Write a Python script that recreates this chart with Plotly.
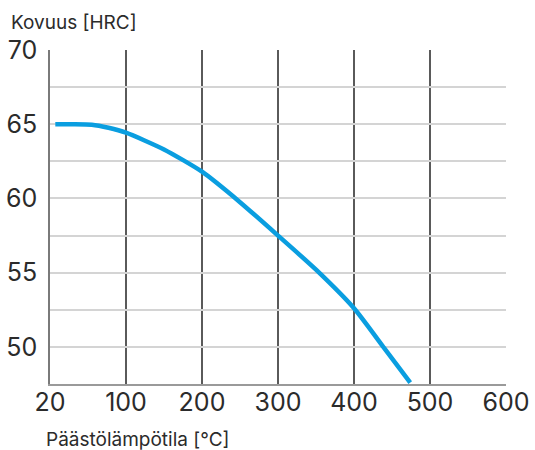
import plotly.graph_objects as go

# Data (x position where tick "20" sits at 0)
temp = [7, 30, 55, 77, 100, 150, 200, 250, 300, 350, 400, 440, 474]
hrc = [65.0, 65.0, 64.97, 64.76, 64.43, 63.3, 61.8, 59.75, 57.5, 55.2, 52.6, 49.9, 47.6]

x_tickvals = [0, 100, 200, 300, 400, 500, 600]
x_ticktext = ["20", "100", "200", "300", "400", "500", "600"]
y_tickvals = [47.5, 50, 52.5, 55, 57.5, 60, 62.5, 65, 67.5, 70]
y_ticktext = ["", "50", "", "55", "", "60", "", "65", "", "70"]

W, H = 535, 450
l, r, t, b = 50, 29, 50, 66
pw, ph = W - l - r, H - t - b

fig = go.Figure()
fig.add_trace(go.Scatter(x=temp, y=hrc, mode="lines",
                         line=dict(color="#0a9ee0", width=4.5, shape="spline", smoothing=0.6),
                         hoverinfo="skip"))

font_family = "Inter, Lato, sans-serif"
tick_font = dict(family=font_family, size=25, color="#2b2b2b")
fig.update_layout(
    width=W, height=H,
    margin=dict(l=l, r=r, t=t, b=b, autoexpand=False),
    paper_bgcolor="white", plot_bgcolor="white",
    showlegend=False,
    font=dict(family=font_family, color="#2b2b2b"),
    xaxis=dict(range=[0, 600], tickvals=x_tickvals, ticktext=x_ticktext,
               showgrid=True, gridcolor="#5a5a5a", gridwidth=1.5,
               showline=True, linecolor="#9a9a9a", linewidth=1.5,
               zeroline=False, ticks="", tickfont=tick_font,
               ticklabelstandoff=-5, automargin=False),
    yaxis=dict(range=[47.5, 70], tickvals=y_tickvals, ticktext=y_ticktext,
               showgrid=True, gridcolor="#d4d4d4", gridwidth=1.5,
               showline=True, linecolor="#7a7a7a", linewidth=1.5,
               zeroline=False, ticks="", tickfont=tick_font,
               ticklabelstandoff=6, automargin=False),
    annotations=[
        dict(text="Kovuus [HRC]", x=(10 - l) / pw, y=(H - b - 22) / ph,
             xref="paper", yref="paper", showarrow=False, borderpad=0,
             font=dict(size=19, color="#2b2b2b"),
             xanchor="left", yanchor="middle"),
        dict(text="Päästölämpötila [°C]", x=(45 - l) / pw, y=(H - b - 439) / ph,
             xref="paper", yref="paper", showarrow=False, borderpad=0,
             font=dict(size=19, color="#2b2b2b"),
             xanchor="left", yanchor="middle"),
    ],
)

fig.write_html("out.html")
